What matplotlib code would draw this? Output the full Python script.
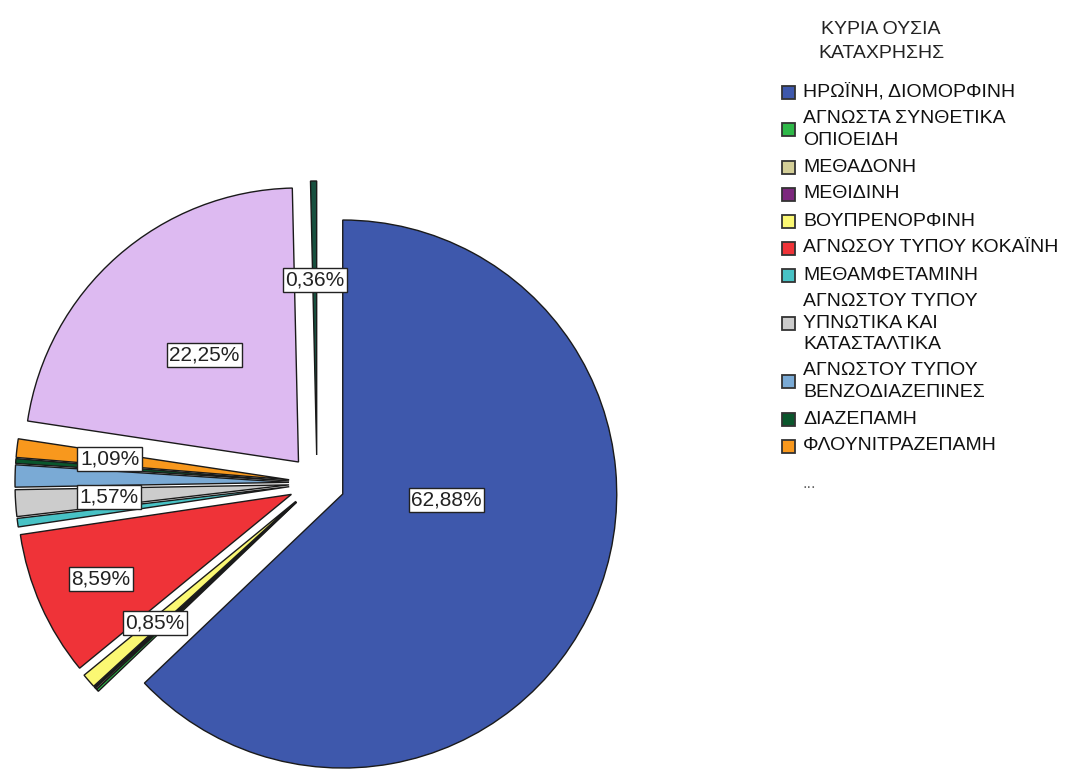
import matplotlib
import numpy as np

matplotlib.use('Agg')
import matplotlib.pyplot as plt  # noqa: E402
from matplotlib.patches import Rectangle  # noqa: E402

plt.rcParams['font.family'] = ['Liberation Sans', 'DejaVu Sans']

# categories in pie order (clockwise from 12 o'clock); the last two are the
# ones hidden behind the "..." of the legend
substances = ["ΗΡΩΪΝΗ, ΔΙΟΜΟΡΦΙΝΗ",
              "ΑΓΝΩΣΤΑ ΣΥΝΘΕΤΙΚΑ\nΟΠΙΟΕΙΔΗ",
              "ΜΕΘΑΔΟΝΗ",
              "ΜΕΘΙΔΙΝΗ",
              "ΒΟΥΠΡΕΝΟΡΦΙΝΗ",
              "ΑΓΝΩΣΟΥ ΤΥΠΟΥ ΚΟΚΑΪΝΗ",
              "ΜΕΘΑΜΦΕΤΑΜΙΝΗ",
              "ΑΓΝΩΣΤΟΥ ΤΥΠΟΥ\nΥΠΝΩΤΙΚΑ ΚΑΙ\nΚΑΤΑΣΤΑΛΤΙΚΑ",
              "ΑΓΝΩΣΤΟΥ ΤΥΠΟΥ\nΒΕΝΖΟΔΙΑΖΕΠΙΝΕΣ",
              "ΔΙΑΖΕΠΑΜΗ",
              "ΦΛΟΥΝΙΤΡΑΖΕΠΑΜΗ",
              "ΑΛΛΗ ΟΥΣΙΑ",
              "ΑΛΛΗ ΟΥΣΙΑ (2)"]
percent = [62.88, 0.15, 0.10, 0.08, 0.85, 8.59, 0.50, 1.57, 1.30, 0.28,
           1.09, 22.25, 0.36]
labelled = [62.88, 0.85, 8.59, 1.57, 1.09, 22.25, 0.36]
n_legend = 11

colors = ['#3E58AC', '#2EB848', '#D3CE97', '#7C287D', '#FBF873', '#EF3338',
          '#48C2C5', '#CCCCCC', '#7AAAD5', '#0A562C', '#F8981D', '#DDBAF1',
          '#17503F']

W, H = 1089, 773
CX, CY, R = 317, H - 483, 274
EXPLODE = 28
# label distance (fraction of radius from the exploded tip); heroin's label
# is nudged off its bisector as in the original
LABEL_R = {0: 0.38, 4: 0.68, 5: 0.76, 7: 0.66, 10: 0.66, 11: 0.52, 12: 0.64}
LABEL_ANGLE = {0: -3.3}

fig = plt.figure(figsize=(W / 100, H / 100), dpi=100)
ax = fig.add_axes([0, 0, 1, 1])
wedges, _ = ax.pie(percent, colors=colors, startangle=90, counterclock=False,
                   center=(CX, CY), radius=R, explode=[EXPLODE] * len(percent),
                   wedgeprops=dict(edgecolor='#1a1a1a', linewidth=1.0))
ax.set_xlim(0, W)
ax.set_ylim(0, H)
ax.set_aspect('equal')
ax.axis('off')

for i, w in enumerate(wedges):
    if percent[i] not in labelled:
        continue
    ang = LABEL_ANGLE.get(i, (w.theta1 + w.theta2) / 2)
    x0, y0 = w.center
    rr = LABEL_R[i] * R
    ax.text(x0 + rr * np.cos(np.radians(ang)), y0 + rr * np.sin(np.radians(ang)),
            f"{percent[i]:.2f}%".replace('.', ','), fontsize=15,
            ha='center', va='center', color='#222222',
            bbox=dict(boxstyle='square,pad=0.12', fc='white', ec='#222222',
                      lw=1.0))

# legend, drawn in pixel space with y pointing down
lg = fig.add_axes([0, 0, 1, 1], facecolor='none')
lg.set_xlim(0, W)
lg.set_ylim(H, 0)
lg.axis('off')
lg.text(881, 30, "ΚΥΡΙΑ ΟΥΣΙΑ", fontsize=14, ha='center', va='center',
        color='#222222')
lg.text(881, 53, "ΚΑΤΑΧΡΗΣΗΣ", fontsize=14, ha='center', va='center',
        color='#222222')
y = 92
for name, col in zip(substances[:n_legend], colors[:n_legend]):
    nl = name.count('\n') + 1
    mid = y + (nl - 1) * 21 / 2
    lg.add_patch(Rectangle((782, mid - 6.5), 13, 13, fc=col, ec='#333333',
                           lw=1.3))
    lg.text(803, mid, name, fontsize=14, ha='left', va='center',
            linespacing=1.32, color='#111111')
    y += (nl - 1) * 21 + 27
lg.text(803, y + 10, "...", fontsize=12, ha='left', va='center',
        color='#666666')

fig.savefig("out.png", dpi=100)
